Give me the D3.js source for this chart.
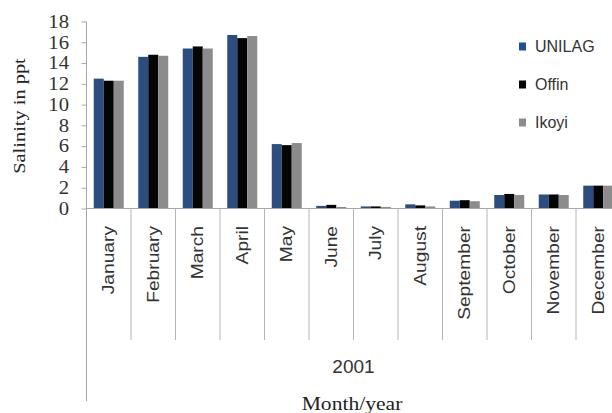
<!DOCTYPE html>
<html>
<head>
<meta charset="utf-8">
<script src="https://cdn.jsdelivr.net/npm/d3@7/dist/d3.min.js"></script>
<style>
  body { margin: 0; background: #fff; }
  svg { display: block; }
</style>
</head>
<body>
<svg id="chart" width="612" height="413"></svg>
<script>
// salinity data
var months = ["January", "February", "March", "April", "May", "June",
              "July", "August", "September", "October", "November", "December"];
var series = ["UNILAG", "Offin", "Ikoyi"];
var unilag = [12.5, 14.6, 15.4, 16.7, 6.2, 0.25, 0.2, 0.4, 0.75, 1.3, 1.35, 2.2];
var offin  = [12.3, 14.8, 15.6, 16.4, 6.1, 0.35, 0.2, 0.3, 0.8, 1.4, 1.35, 2.2];
var ikoyi  = [12.3, 14.7, 15.4, 16.6, 6.3, 0.15, 0.15, 0.2, 0.7, 1.3, 1.3, 2.2];
var yTicks = [0, 2, 4, 6, 8, 10, 12, 14, 16, 18];
var yearLabel = "2001";

var colors = {UNILAG: "#2b4d80", Offin: "#050505", Ikoyi: "#8c8c8c"};
var values = {UNILAG: unilag, Offin: offin, Ikoyi: ikoyi};

var rows = months.map(function(m, i) {
  return {month: m, vals: series.map(function(s) { return {key: s, value: values[s][i]}; })};
});

var plotL = 86.5, plotR = 620.5, plotT = 21.5, plotB = 208.5;

var svg = d3.select("#chart");

var x0 = d3.scaleBand().domain(months).range([plotL, plotR]).padding(0);
var x1 = d3.scaleBand().domain(series).range([7.25, 37.25]).padding(0);
var y = d3.scaleLinear().domain([0, 18]).range([plotB, plotT]);

// bars
var groups = svg.selectAll("g.month")
    .data(rows)
  .enter().append("g")
    .attr("class", "month")
    .attr("transform", function(d) { return "translate(" + x0(d.month) + ",0)"; });

groups.selectAll("rect")
    .data(function(d) { return d.vals; })
  .enter().append("rect")
    .attr("x", function(d) { return x1(d.key); })
    .attr("width", x1.bandwidth())
    .attr("y", function(d) { return y(d.value); })
    .attr("height", function(d) { return plotB - y(d.value); })
    .attr("fill", function(d) { return colors[d.key]; });

// y axis
var yAxis = svg.append("g")
    .attr("transform", "translate(" + plotL + ",0)")
    .call(d3.axisLeft(y).tickValues(yTicks).tickSize(5).tickFormat(d3.format("d")));
yAxis.select(".domain").remove();
yAxis.selectAll("line").attr("stroke", "#a8a8a8");
yAxis.selectAll("text")
    .attr("x", null)
    .attr("transform", "translate(-17.5,0) scale(1.15,1)")
    .attr("fill", "#333")
    .style("font-family", "'Liberation Serif', 'Times New Roman', serif")
    .style("font-size", "18px");

// axis lines
svg.append("line")
    .attr("x1", plotL).attr("x2", plotL)
    .attr("y1", plotT).attr("y2", 401)
    .attr("stroke", "#a8a8a8");
svg.append("line")
    .attr("x1", plotL).attr("x2", plotR)
    .attr("y1", plotB).attr("y2", plotB)
    .attr("stroke", "#a8a8a8");

// category separators
svg.selectAll("line.sep")
    .data(months.slice(1).concat(["end"]))
  .enter().append("line")
    .attr("class", "sep")
    .attr("x1", function(d) { return d === "end" ? plotR : x0(d); })
    .attr("x2", function(d) { return d === "end" ? plotR : x0(d); })
    .attr("y1", plotB).attr("y2", 340)
    .attr("stroke", "#b4b4b4");

// month labels
svg.selectAll("text.month")
    .data(months)
  .enter().append("text")
    .attr("class", "month")
    .attr("transform", function(d) {
      return "translate(" + (x0(d) + x0.bandwidth() / 2) + ",226) rotate(-90) scale(1.2,1)";
    })
    .attr("text-anchor", "end")
    .attr("dy", "0.35em")
    .attr("fill", "#333")
    .style("font-family", "'Liberation Sans', Arial, sans-serif")
    .style("font-size", "16px")
    .text(function(d) { return d; });

svg.append("text")
    .attr("x", (plotL + plotR) / 2)
    .attr("y", 373)
    .attr("text-anchor", "middle")
    .attr("fill", "#333")
    .style("font-family", "'Liberation Sans', Arial, sans-serif")
    .style("font-size", "19px")
    .text(yearLabel);

svg.append("text")
    .attr("transform", "translate(352,410) scale(1.2,1)")
    .attr("text-anchor", "middle")
    .attr("fill", "#222")
    .style("font-family", "'Liberation Serif', 'Times New Roman', serif")
    .style("font-size", "18px")
    .text("Month/year");

svg.append("text")
    .attr("transform", "translate(20,116) rotate(-90) scale(1.2,1)")
    .attr("text-anchor", "middle")
    .attr("dy", "0.3em")
    .attr("fill", "#222")
    .style("font-family", "'Liberation Serif', 'Times New Roman', serif")
    .style("font-size", "17px")
    .text("Salinity in ppt");

// legend
var legend = svg.selectAll("g.legend")
    .data(series)
  .enter().append("g")
    .attr("class", "legend")
    .attr("transform", function(d, i) { return "translate(519," + (46.5 + i * 38) + ")"; });
legend.append("rect")
    .attr("x", 0).attr("y", -4)
    .attr("width", 7).attr("height", 8)
    .attr("fill", function(d) { return d === "UNILAG" ? "#1f4e9a" : colors[d]; });
legend.append("text")
    .attr("x", 16)
    .attr("dy", "0.36em")
    .attr("fill", "#333")
    .style("font-family", "'Liberation Sans', Arial, sans-serif")
    .style("font-size", "16px")
    .text(function(d) { return d; });
</script>
</body>
</html>
